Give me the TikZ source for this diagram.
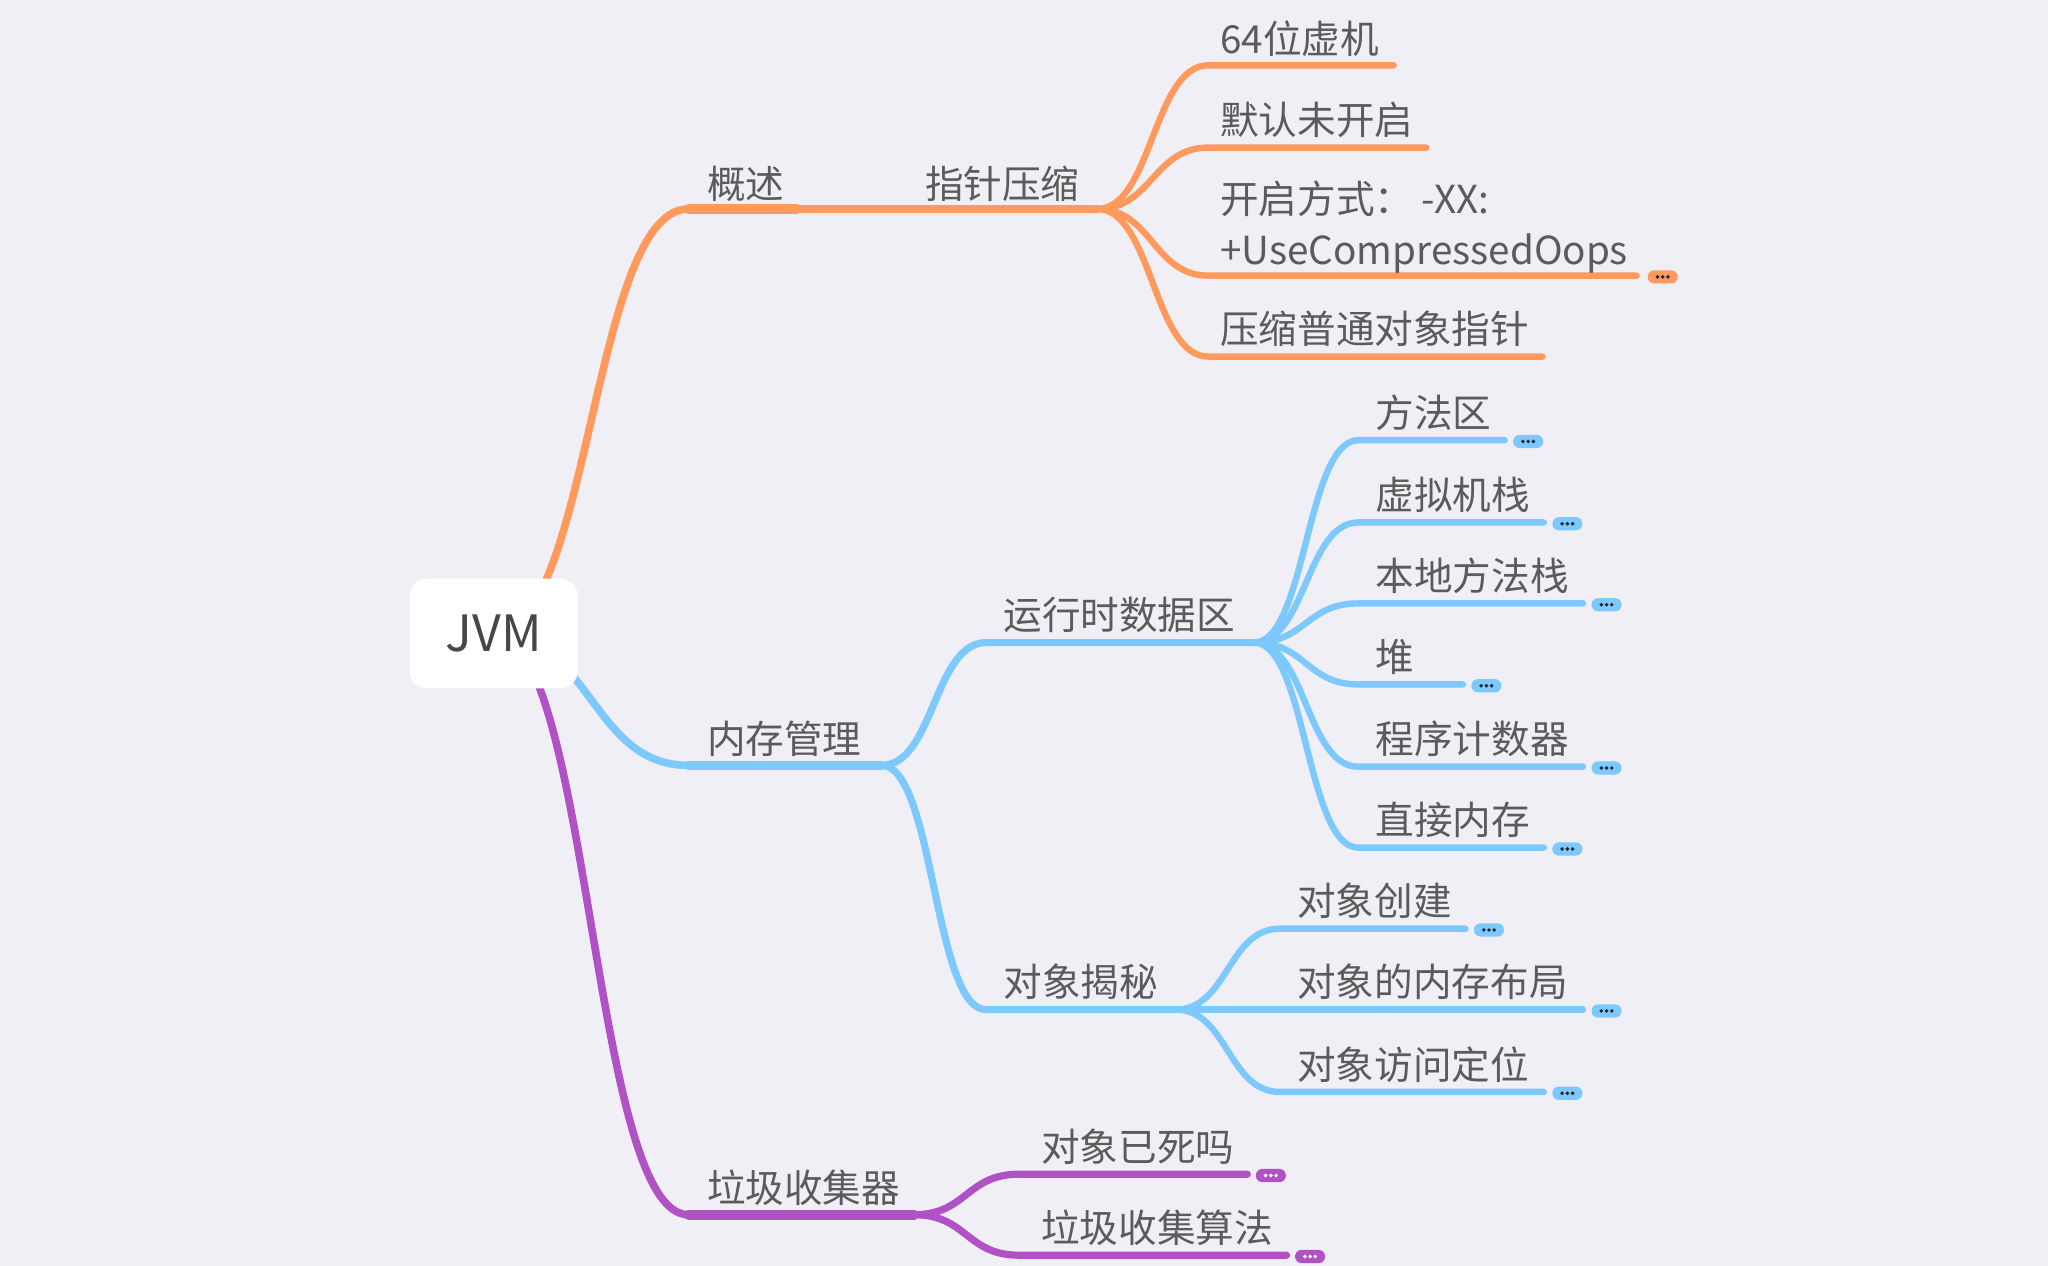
\documentclass[tikz,border=0pt]{standalone}
\usepackage{fontspec}
\newfontfamily\cjk{Noto Sans CJK SC}
\usetikzlibrary{calc}
\definecolor{bg}{HTML}{F0EFF5}
\definecolor{orangeline}{HTML}{FF9A5C}
\definecolor{blueline}{HTML}{7DC8FC}
\definecolor{purpleline}{HTML}{B151C6}
\definecolor{txt}{HTML}{5B5B5B}
\definecolor{dots}{HTML}{1E2A38}
% folded-branch marker: name, position, fill, dot colour
\newcommand{\morebadge}[4]{%
  \node[badge,fill=#3] (#1) at (#2) {};
  \foreach \d in {-4,0,4} \fill[#4] ($(#1)+(\d,0)$) circle (1.5);}

\begin{document}
\begin{tikzpicture}[x=0.653pt,y=-0.653pt,line cap=round,
    every node/.style={font=\cjk\fontsize{19.3}{25.5}\selectfont,text=txt,inner sep=0pt},
    topic/.style={anchor=west},
    badge/.style={rounded corners=3.2pt,minimum width=15pt,minimum height=6.6pt},
    rootlink/.style={line width=3.8pt},
    rootline/.style={line width=4.8pt},
    midline/.style={line width=3.6pt},
    leafline/.style={line width=3.2pt}]
  \fill[bg] (0,0) rectangle (1568,969);
  \useasboundingbox (0,0) rectangle (1568,969);
  \coordinate (jvm-c) at (378,485);

  % 概述
  \coordinate (gs-s) at (527,160); \coordinate (gs-e) at (610,160);
  \draw[orangeline,rootlink] (jvm-c) .. controls +(74,0) and +(-74,0) .. (gs-s);
  \draw[orangeline,rootline] (gs-s) -- (gs-e);
  \node[topic] (gs) at (541,141) {概述};
  \coordinate (zz-e) at (840,160);
  \draw[orangeline,midline] (gs-e) -- (zz-e);
  \node[topic] (zz) at (708,141) {指针压缩};
  \coordinate (xj-s) at (925,50); \coordinate (xj-e) at (1067,50);
  \coordinate (mr-s) at (925,113); \coordinate (mr-e) at (1092,113);
  \coordinate (kq-s) at (925,211); \coordinate (kq-e) at (1253,211);
  \coordinate (ys-s) at (925,273); \coordinate (ys-e) at (1181,273);
  \foreach \c in {xj,mr,kq,ys}
    \draw[orangeline,leafline] (zz-e) .. controls +(42,0) and +(-42,0) .. (\c-s) -- (\c-e);
  \node[topic] (xj) at (934,30) {64位虚机};
  \node[topic] (mr) at (934,92) {默认未开启};
  \node[topic,align=left] (kq) at (934,174) {开启方式：\ -XX:\\+UseCompressedOops};
  \node[topic] (ys) at (934,252) {压缩普通对象指针};
  \morebadge{kq-b}{1273,212}{orangeline}{dots}

  % 内存管理
  \coordinate (nc-s) at (527,586); \coordinate (nc-e) at (675,586);
  \draw[blueline,rootlink] (jvm-c) .. controls +(74,0) and +(-74,0) .. (nc-s);
  \draw[blueline,rootline] (nc-s) -- (nc-e);
  \node[topic] (nc) at (541,566) {内存管理};
  \coordinate (yx-s) at (755,492); \coordinate (yx-e) at (960,492);
  \coordinate (dx-s) at (755,773); \coordinate (dx-e) at (900,773);
  \foreach \c in {yx,dx}
    \draw[blueline,midline] (nc-e) .. controls +(40,0) and +(-40,0) .. (\c-s) -- (\c-e);
  \node[topic] (yx) at (768,471) {运行时数据区};
  \node[topic] (dx) at (768,752) {对象揭秘};
  \foreach \c/\y/\e/\t in {ff/337/1152/方法区, xn/400/1182/虚拟机栈, bd/462/1212/本地方法栈,
      dui/524/1120/堆, cx/587/1212/程序计数器, zj/649/1182/直接内存} {
    \coordinate (\c-s) at (1040,\y); \coordinate (\c-e) at (\e,\y);
    \draw[blueline,leafline] (yx-e) .. controls +(40,0) and +(-40,0) .. (\c-s) -- (\c-e);
    \node[topic] (\c) at (1053,\y-21) {\t};
    \morebadge{\c-b}{\e+18,\y+1}{blueline}{dots}
  }
  \foreach \c/\y/\e/\t in {cj/711/1122/对象创建, bj/773/1212/对象的内存布局, fw/836/1182/对象访问定位} {
    \coordinate (\c-s) at (980,\y); \coordinate (\c-e) at (\e,\y);
    \draw[blueline,leafline] (dx-e) .. controls +(40,0) and +(-40,0) .. (\c-s) -- (\c-e);
    \node[topic] (\c) at (993,\y-21) {\t};
    \morebadge{\c-b}{\e+18,\y+1}{blueline}{dots}
  }

  % 垃圾收集器
  \coordinate (lj-s) at (527,930); \coordinate (lj-e) at (700,930);
  \draw[purpleline,rootlink] (jvm-c) .. controls +(74,0) and +(-74,0) .. (lj-s);
  \draw[purpleline,rootline] (lj-s) -- (lj-e);
  \node[topic] (lj) at (541,909) {垃圾收集器};
  \coordinate (ys2-s) at (780,899); \coordinate (ys2-e) at (955,899);
  \coordinate (sf-s) at (780,961); \coordinate (sf-e) at (985,961);
  \foreach \c in {ys2,sf}
    \draw[purpleline,midline] (lj-e) .. controls +(40,0) and +(-40,0) .. (\c-s) -- (\c-e);
  \node[topic] (ys2) at (797,878) {对象已死吗};
  \node[topic] (sf) at (797,940) {垃圾收集算法};
  \morebadge{ys2-b}{973,900}{purpleline}{white}
  \morebadge{sf-b}{1003,962}{purpleline}{white}

  % root
  \node[fill=white,rounded corners=9pt,minimum width=84.2pt,minimum height=54.9pt,
    font=\cjk\fontsize{25}{30}\selectfont,text=black!72] (jvm) at (jvm-c) {JVM};
\end{tikzpicture}
\end{document}
